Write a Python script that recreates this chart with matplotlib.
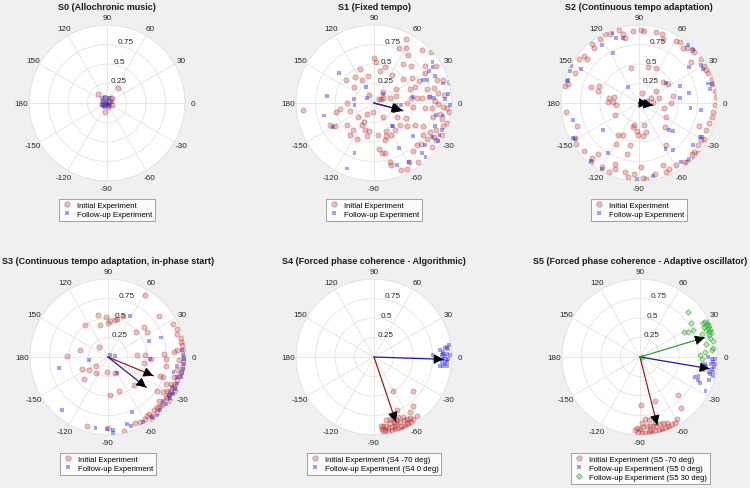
import numpy as np
import matplotlib
matplotlib.use("Agg")
import matplotlib.pyplot as plt
from matplotlib.lines import Line2D

plt.rcParams["font.family"] = ["Liberation Sans", "DejaVu Sans"]

titles = [
    "S0 (Allochronic music)",
    "S1 (Fixed tempo)",
    "S2 (Continuous tempo adaptation)",
    "S3 (Continuous tempo adaptation, in-phase start)",
    "S4 (Forced phase coherence - Algorithmic)",
    "S5 (Forced phase coherence - Adaptive oscillator)",
]

s0_initial = np.array([
    0.14+0.19j, -0.12+0.11j, -0.03-0.12j, 0.04+0.07j, 0.06+0.06j, 0.07-0.02j,
    0.03-0.03j, -0.05+0.03j, -0.06-0.01j, 0.01-0.05j, -0.02+0.06j, -0.04-0.03j,
    0.03+0.01j,
])
s0_follow = np.array([
    -0.07+0.06j, -0.05+0.01j, -0.03-0.03j, 0.00+0.03j, 0.03-0.01j, 0.01-0.04j,
    -0.02+0.08j, -0.04-0.05j, 0.03+0.06j, 0.06+0.01j, -0.01-0.01j, -0.06-0.02j,
])

s1_initial = np.array([
    0.41+0.82j, 0.32+0.71j, 0.41+0.71j, 0.62+0.68j, 0.73+0.65j, 0.00+0.58j,
    0.03+0.53j, -0.18+0.44j, 0.14+0.46j, 0.37+0.50j, 0.43+0.61j, 0.47+0.48j,
    0.65+0.48j, 0.79+0.48j, -0.25+0.33j, -0.36+0.29j, -0.16+0.30j, -0.26+0.21j,
    -0.08+0.35j, 0.08+0.41j, 0.23+0.36j, 0.37+0.31j, 0.49+0.32j, 0.58+0.28j,
    0.65+0.39j, 0.81+0.30j, 0.89+0.30j, 0.96+0.27j, -0.91-0.09j, -0.49-0.12j,
    -0.44-0.08j, -0.31-0.10j, -0.35+0.00j, -0.57-0.28j, -0.50-0.29j, -0.35-0.28j,
    -0.21-0.18j, -0.15-0.28j, -0.12-0.34j, -0.09-0.42j, 0.05-0.41j, 0.06-0.59j,
    0.10-0.64j, 0.14-0.64j, 0.16-0.36j, 0.15-0.42j, 0.14-0.48j, 0.22-0.41j,
    0.20-0.75j, 0.22-0.79j, 0.35-0.86j, 0.42-0.85j, 0.45-0.76j, 0.57-0.75j,
    0.50-0.61j, 0.55-0.54j, 0.42-0.29j, 0.53-0.28j, 0.63-0.29j, 0.63-0.41j,
    0.68-0.46j, 0.74-0.56j, 0.77-0.44j, 0.79-0.34j, 0.87-0.41j, 0.88-0.29j,
    0.93-0.25j, 0.96-0.12j, 0.93-0.07j, 0.89-0.05j, 0.84-0.14j, 0.76-0.18j,
    0.74-0.07j, 0.66-0.06j, 0.61+0.06j, 0.55+0.06j, 0.48+0.06j, 0.50-0.05j,
    0.42+0.00j, 0.46+0.18j, 0.53+0.21j, 0.68+0.18j, 0.77+0.19j, 0.82+0.13j,
    0.90+0.10j, 0.71+0.08j, 0.28+0.09j, 0.21+0.06j, 0.29-0.18j, 0.41-0.19j,
    0.12-0.18j, 0.06+0.05j, 0.11+0.06j, -0.07+0.10j, -0.01-0.12j, -0.09-0.14j,
    -0.13-0.24j, -0.07-0.36j, -0.27-0.35j, -0.31-0.41j, -0.22-0.46j, 0.09+0.05j,
    0.28+0.18j, 0.12+0.14j, 0.33-0.28j, 0.27-0.35j, 0.78+0.03j, 0.82-0.01j,
    0.87-0.20j, 0.80-0.48j, 0.72-0.37j, 0.60-0.52j,
])
s1_follow = np.array([
    -0.45+0.38j, -0.60+0.09j, -0.64-0.16j, -0.53-0.31j, -0.35-0.84j, -0.25-0.64j,
    -0.25-0.02j, -0.26+0.05j, -0.10+0.21j, -0.09+0.06j, 0.11+0.12j, 0.32-0.58j,
    0.29-0.80j, 0.45-0.76j, 0.50-0.42j, 0.65-0.54j, 0.62-0.64j, 0.66-0.69j,
    0.24-0.29j, 0.28-0.02j, 0.63+0.30j, 0.68+0.29j, 0.71+0.41j, 0.75+0.53j,
    0.75+0.46j, 0.78+0.35j, 0.72+0.08j, 0.77+0.06j, 0.89+0.25j, 0.95+0.11j,
    0.91+0.05j, 0.97-0.02j, 0.89-0.16j, 0.80-0.15j, 0.78-0.29j, 0.87-0.35j,
    0.84-0.41j, 0.82-0.49j, 0.74-0.44j, 0.50+0.08j, 0.35-0.03j, 0.23-0.29j,
])

s2_initial = np.array([
    -0.43+0.88j, -0.37+0.89j, -0.26+0.94j, -0.21+0.88j, -0.18+0.83j, -0.08+0.92j,
    0.03+0.93j, 0.07+0.92j, 0.22+0.91j, 0.29+0.89j, 0.31+0.82j, 0.47+0.80j,
    0.52+0.78j, 0.56+0.70j, 0.61+0.70j, 0.68+0.68j, 0.71+0.65j, 0.67+0.53j,
    0.80+0.57j, 0.83+0.48j, 0.86+0.42j, 0.88+0.38j, 0.93+0.31j, 0.94+0.24j,
    0.97+0.16j, 0.99+0.08j, 0.97-0.02j, 0.95-0.11j, 0.93-0.18j, 0.90-0.26j,
    0.86-0.35j, 0.80-0.48j, 0.76-0.54j, 0.71-0.63j, 0.68-0.65j, 0.59-0.76j,
    0.47-0.80j, 0.39-0.84j, 0.35-0.88j, 0.20-0.91j, 0.09-0.97j, 0.05-0.96j,
    -0.06-0.91j, -0.14-0.95j, -0.18-0.88j, -0.31-0.84j, -0.38-0.88j, -0.48-0.82j,
    -0.61-0.76j, -0.60-0.71j, -0.70-0.62j, -0.81-0.52j, -0.82-0.45j, -0.79-0.29j,
    -0.93-0.12j, -0.95+0.22j, -0.91+0.25j, -0.82+0.38j, -0.77+0.56j, -0.70+0.60j,
    -0.67+0.57j, -0.60+0.76j, -0.58+0.70j, -0.50+0.82j, -0.10+0.45j, 0.11+0.46j,
    0.22+0.45j, 0.31+0.27j, 0.37+0.25j, 0.22+0.16j, 0.43+0.09j, 0.41+0.00j,
    0.32-0.07j, 0.26+0.06j, 0.16+0.06j, 0.04+0.13j, -0.38+0.06j, -0.33+0.01j,
    -0.29-0.02j, -0.31-0.16j, -0.62+0.21j, -0.51+0.22j, -0.53+0.16j, -0.32+0.08j,
    -0.21-0.41j, -0.06-0.28j, -0.08-0.31j, -0.03-0.36j, 0.07-0.28j, 0.09-0.37j,
    0.05-0.42j, -0.27-0.41j, -0.29-0.53j, -0.11-0.54j, -0.52-0.66j, -0.31-0.78j,
    -0.16-0.65j, -0.01-0.41j, 0.33-0.31j, 0.35-0.18j, -0.40+0.01j, 0.18+0.01j,
    0.06+0.01j, 0.35-0.54j, 0.31-0.80j, 0.77-0.29j, 0.83-0.46j, 0.76-0.64j,
    0.61-0.76j, 0.03-0.82j,
])
s2_follow = np.array([
    -0.34+0.90j, -0.30+0.83j, -0.21+0.83j, -0.48+0.74j, -0.33+0.64j, -0.87+0.48j,
    -0.89+0.41j, -0.74+0.43j, -0.91+0.30j, -0.92+0.28j, -0.85-0.22j, -0.85-0.45j,
    -0.82-0.46j, -0.46-0.35j, -0.40-0.64j, -0.61-0.74j, -0.48-0.85j, -0.14+0.21j,
    0.05+0.01j, 0.12+0.02j, 0.35+0.26j, 0.52+0.22j, 0.52+0.06j, 0.64+0.13j,
    0.66-0.07j, 0.44-0.36j, 0.44-0.60j, 0.54-0.76j, 0.69-0.54j, 0.78-0.44j,
    0.71-0.72j, 0.64-0.72j, -0.03-0.97j, 0.18-0.93j, 0.63+0.74j, 0.69+0.69j,
    0.64+0.46j, 0.80+0.49j, 0.82+0.44j, 0.88+0.25j, 0.94+0.24j, 0.91+0.18j,
    0.80-0.09j, 0.81-0.43j, 0.34-0.59j, 0.39-0.35j,
])

s3_initial = np.array([
    0.47+0.80j, -0.13+0.54j, -0.02+0.51j, 0.19+0.53j, 0.09+0.47j, -0.29+0.41j,
    -0.10+0.41j, 0.00+0.44j, 0.03+0.46j, 0.12+0.49j, 0.65+0.53j, 0.46+0.38j,
    0.50+0.32j, 0.36+0.32j, -0.36+0.09j, -0.12+0.13j, -0.53+0.01j, 0.37+0.03j,
    0.47+0.03j, 0.55-0.02j, 0.46-0.08j, 0.72+0.04j, 0.74-0.11j, 0.74-0.02j,
    -0.33-0.15j, -0.25-0.17j, -0.16-0.21j, -0.15-0.11j, -0.31-0.28j, -0.01-0.19j,
    0.09-0.21j, 0.14-0.44j, 0.03-0.49j, 0.33-0.36j, -0.27-0.88j, 0.00-0.91j,
    0.20-0.95j, 0.35-0.85j, 0.41-0.83j, 0.47-0.80j, 0.56-0.75j, 0.63-0.71j,
    0.66-0.64j, 0.71-0.59j, 0.76-0.53j, 0.78-0.49j, 0.81-0.45j, 0.84-0.39j,
    0.86-0.34j, 0.88-0.29j, 0.91-0.24j, 0.93-0.19j, 0.95-0.13j, 0.96-0.06j,
    0.97+0.00j, 0.96+0.09j, 0.95+0.15j, 0.93+0.19j, 0.88+0.30j, 0.93+0.24j,
    0.83+0.42j, 0.88+0.36j, 0.88+0.09j, 0.84+0.06j, 0.80-0.43j, 0.74-0.51j,
    0.69-0.62j, 0.63-0.64j, 0.59-0.68j, 0.52-0.73j, 0.50-0.76j, 0.76-0.43j,
    0.81-0.34j, 0.86-0.43j, 0.74-0.34j, 0.71-0.45j, 0.66-0.56j, 0.91-0.04j,
    0.88-0.17j, 0.84-0.26j, 0.71-0.26j, 0.67-0.24j, 0.63-0.43j, 0.80-0.56j,
    0.56-0.79j,
])
s3_follow = np.array([
    0.28+0.52j, 0.68+0.25j, 0.53+0.21j, 0.54-0.02j, 0.03+0.02j, 0.09+0.01j,
    -0.24-0.04j, -0.63-0.14j, -0.59-0.68j, -0.16-0.91j, -0.01-0.92j, 0.07-0.93j,
    0.06-0.97j, 0.24-0.86j, 0.29-0.89j, 0.31-0.71j, 0.45-0.83j, 0.56-0.77j,
    0.63-0.75j, 0.67-0.68j, 0.75-0.60j, 0.80-0.53j, 0.83-0.47j, 0.86-0.41j,
    0.89-0.34j, 0.93-0.26j, 0.95-0.21j, 0.96-0.15j, 0.97-0.09j, 0.98-0.03j,
    0.96+0.02j, 0.95+0.09j, 0.88-0.26j, 0.82-0.38j, 0.78-0.49j, 0.71-0.56j,
    0.84-0.19j, 0.88-0.11j, 0.12-0.21j,
])

s4_initial = np.array([
    0.24-0.43j, 0.50-0.43j, 0.50-0.63j, 0.30-0.68j, 0.55-0.76j, 0.46-0.71j,
    0.10-0.92j, 0.14-0.94j, 0.18-0.95j, 0.23-0.94j, 0.27-0.92j, 0.31-0.91j,
    0.35-0.89j, 0.40-0.88j, 0.44-0.85j, 0.48-0.83j, 0.50-0.80j, 0.12-0.89j,
    0.16-0.88j, 0.21-0.85j, 0.25-0.83j, 0.29-0.81j, 0.33-0.83j, 0.38-0.81j,
    0.42-0.79j, 0.46-0.78j, 0.15-0.81j, 0.20-0.79j, 0.24-0.78j, 0.28-0.85j,
    0.34-0.93j, 0.38-0.91j, 0.09-0.88j, 0.12-0.95j, 0.31-0.77j, 0.37-0.77j,
    0.23-0.90j, 0.18-0.91j, 0.42-0.85j, 0.27-0.89j,
])
s4_follow = np.array([
    0.75+0.02j, 0.82-0.02j, 0.85+0.09j, 0.87+0.02j, 0.89+0.06j, 0.91+0.11j,
    0.93+0.13j, 0.95+0.10j, 0.97+0.02j, 0.95-0.02j, 0.93-0.06j, 0.91-0.09j,
    0.89-0.11j, 0.85-0.11j, 0.87-0.06j, 0.91+0.01j, 0.93+0.04j, 0.89-0.02j,
    0.94-0.12j, 0.88+0.04j, 0.92-0.04j, 0.96+0.15j,
])

s5_initial = np.array([
    0.49-0.49j, 0.53-0.65j, 0.19-0.56j, 0.01-0.61j, 0.47-0.80j, -0.06-0.94j,
    -0.02-0.96j, 0.02-0.97j, 0.06-0.97j, 0.11-0.96j, 0.15-0.96j, 0.19-0.95j,
    0.24-0.94j, 0.28-0.92j, 0.32-0.91j, 0.36-0.89j, 0.41-0.86j, 0.45-0.85j,
    -0.04-0.91j, 0.00-0.92j, 0.04-0.90j, 0.09-0.89j, 0.13-0.88j, 0.17-0.89j,
    0.21-0.88j, 0.26-0.86j, 0.30-0.85j, 0.34-0.85j, 0.06-0.79j, 0.11-0.81j,
    0.19-0.83j, 0.28-0.96j, 0.13-0.94j, 0.38-0.92j, 0.03-0.85j,
])
s5_follow0 = np.array([
    0.87+0.00j, 0.92-0.02j, 0.94-0.06j, 0.96-0.09j, 0.95-0.13j, 0.92-0.15j,
    0.88-0.19j, 0.90-0.22j, 0.94-0.19j, 0.83-0.09j, 0.81-0.17j, 0.75-0.24j,
    0.74-0.30j, 0.77-0.33j, 0.84-0.43j, 0.88-0.30j, 0.71-0.26j, 0.91-0.09j,
    0.96-0.02j, 0.85-0.11j, 0.93-0.24j,
])
s5_follow30 = np.array([
    0.62+0.58j, 0.56+0.32j, 0.61+0.32j, 0.68+0.34j, 0.66+0.43j, 0.80+0.29j,
    0.81+0.43j, 0.83+0.45j, 0.85+0.41j, 0.87+0.36j, 0.88+0.32j, 0.88+0.28j,
    0.90+0.24j, 0.84+0.34j, 0.82+0.38j, 0.92+0.32j, 0.91+0.36j, 0.93+0.21j,
    0.94+0.12j, 0.92+0.09j, 0.85+0.17j, 0.83+0.06j, 0.77+0.02j, 0.80-0.03j,
    0.87+0.41j, 0.90+0.41j, 0.88+0.46j, 0.02+0.00j,
])

# mean resultant vectors (arrows)
s0_means = [0.01+0.00j, 0.00-0.01j]
s1_means = [0.37-0.10j, 0.35-0.09j]
s2_means = [0.18-0.03j, 0.12-0.01j]
s3_means = [0.58-0.24j, 0.49-0.39j]
s4_means = [0.28-0.83j, 0.89-0.03j]
s5_means = [0.22-0.87j, 0.89-0.15j, 0.83+0.25j]

legend_sets = [
    ["Initial Experiment", "Follow-up Experiment"],
    ["Initial Experiment", "Follow-up Experiment"],
    ["Initial Experiment", "Follow-up Experiment"],
    ["Initial Experiment", "Follow-up Experiment"],
    ["Initial Experiment (S4 -70 deg)", "Follow-up Experiment (S4 0 deg)"],
    ["Initial Experiment (S5 -70 deg)", "Follow-up Experiment (S5 0 deg)",
     "Follow-up Experiment (S5 30 deg)"],
]

panel_data = [
    [s0_initial, s0_follow],
    [s1_initial, s1_follow],
    [s2_initial, s2_follow],
    [s3_initial, s3_follow],
    [s4_initial, s4_follow],
    [s5_initial, s5_follow0, s5_follow30],
]
panel_means = [s0_means, s1_means, s2_means, s3_means, s4_means, s5_means]

theta_ticks = [0, 30, 60, 90, 120, 150, 180, 210, 240, 270, 300, 330]
theta_labels = ["0", "30", "60", "90", "120", "150", "180",
                "-150", "-120", "-90", "-60", "-30"]

# ─── styles ──────────────────────────────────────────────────────────────────

STYLES = [
    dict(marker="o", s=14, facecolor=(0.8, 0.2, 0.2, 0.32), edgecolor=(0.6, 0.1, 0.1, 0.38), linewidth=0.5),
    dict(marker="s", s=8, facecolor=(0.15, 0.15, 0.85, 0.42), edgecolor="none", linewidth=0),
    dict(marker="D", s=8, facecolor=(0.3, 0.75, 0.3, 0.35), edgecolor=(0.2, 0.65, 0.2, 0.8), linewidth=0.5),
]
ARROW_COLORS = ["#a01c1c", "#1c1c9c", "#2ea02e"]
GRID = "#e3e3e3"

W, H = 750, 489
R = 78
centres = [(107, 104), (374, 104), (639, 104), (108, 358), (374, 358), (640, 358)]

fig = plt.figure(figsize=(7.5, 4.89), dpi=100)
fig.patch.set_facecolor("#f0f0f0")

for k, (cx, cy) in enumerate(centres):
    ax = fig.add_axes([(cx - R) / W, (H - cy - R) / H, 2 * R / W, 2 * R / H],
                      projection="polar")
    ax.set_facecolor("white")
    ax.set_theta_zero_location("E")
    ax.set_theta_direction(1)
    ax.set_ylim(0, 1)
    ax.set_thetagrids(theta_ticks, theta_labels, fontsize=5.9, color="#262626")
    ax.set_rgrids([0.25, 0.5, 0.75, 1.0], ["0.25", "0.5", "0.75", ""],
                  angle=80, fontsize=5.9, color="#262626")
    ax.tick_params(axis="x", pad=-5)
    ax.grid(True, color=GRID, lw=0.6)
    ax.spines["polar"].set_color(GRID)
    ax.spines["polar"].set_linewidth(0.6)

    handles = []
    for z, st, lab in zip(panel_data[k], STYLES, legend_sets[k]):
        ax.scatter(np.angle(z), np.abs(z), zorder=3, **st)
        handles.append(Line2D([], [], ls="none", marker=st["marker"],
                              markersize=np.sqrt(st["s"]) * 1.05,
                              markerfacecolor=st["facecolor"],
                              markeredgecolor=st["edgecolor"],
                              markeredgewidth=st["linewidth"], label=lab))

    for m, col in zip(panel_means[k], ARROW_COLORS):
        th, r = np.angle(m), np.abs(m)
        ax.plot([th, th], [0, r], color=col, lw=0.9, zorder=4)
        if r > 0.05:
            ax.annotate("", xy=(th, r), xytext=(th, r - 0.08),
                        arrowprops=dict(arrowstyle="-|>,head_length=0.6,head_width=0.3",
                                        fc="black", ec="black", lw=0.6,
                                        shrinkA=0, shrinkB=0),
                        zorder=5)

    ax.set_title(titles[k], fontsize=6.5, fontweight="bold", y=1.105, pad=0,
                 color="#1a1a1a")
    leg = ax.legend(handles=handles, loc="upper center", bbox_to_anchor=(0.5, -0.115),
                    fontsize=5.6, frameon=True, fancybox=False, borderpad=0.35,
                    labelspacing=0.2, handletextpad=0.6, handlelength=1.4,
                    borderaxespad=0)
    leg.get_frame().set_edgecolor("#7a7a7a")
    leg.get_frame().set_linewidth(0.6)

fig.savefig("out.png", dpi=100, facecolor=fig.get_facecolor())
